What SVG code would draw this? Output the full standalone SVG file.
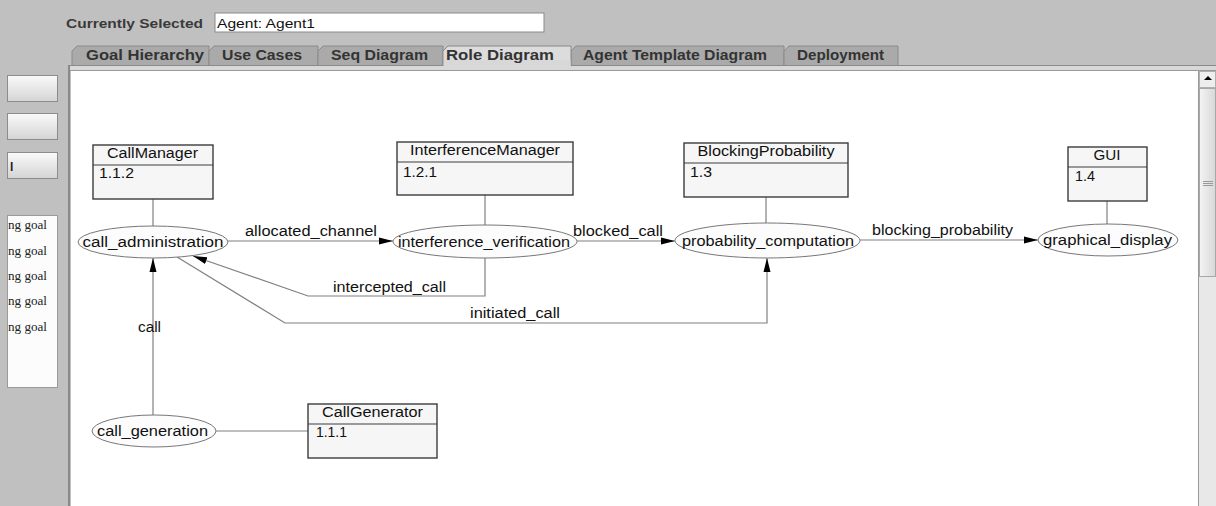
<svg xmlns="http://www.w3.org/2000/svg" width="1216" height="506" viewBox="0 0 1216 506">
<style>
.ui{font-family:"Liberation Sans",Arial,sans-serif}
.tab{fill:#aaaaaa;stroke:#8a8a8a;stroke-width:1}
.tabsel{fill:#dcdcdc;stroke:#8a8a8a;stroke-width:1}
.tabt{font-family:"Liberation Sans",Arial,sans-serif;font-weight:bold;font-size:14px;fill:#333}
.lbl{font-family:"Liberation Sans",Arial,sans-serif;font-size:14px;fill:#111}
.box{fill:#f6f6f6;stroke:#3c3c3c;stroke-width:1.4}
.ell{fill:#fcfcfc;stroke:#777;stroke-width:1}
.con{fill:none;stroke:#808080;stroke-width:1.2}
.goal{font-family:"Liberation Serif","Times New Roman",serif;font-size:12px;fill:#222}
.btn{fill:url(#bg);stroke:#8c8c8c;stroke-width:1}
</style>
<defs>
<linearGradient id="bg" x1="0" y1="0" x2="0" y2="1">
<stop offset="0" stop-color="#fafafa"/><stop offset="1" stop-color="#d4d4d4"/>
</linearGradient>
<linearGradient id="sb" x1="0" y1="0" x2="1" y2="0">
<stop offset="0" stop-color="#f4f4f4"/><stop offset="1" stop-color="#d8d8d8"/>
</linearGradient>
<marker id="arr" viewBox="0 0 14 8" refX="14" refY="4" markerWidth="14" markerHeight="8" markerUnits="userSpaceOnUse" orient="auto">
<path d="M0,0.5 L14,4 L0,7.5 Z" fill="#000"/>
</marker>
</defs>

<!-- window background -->
<rect x="0" y="0" width="1216" height="506" fill="#c0c0c0"/>

<!-- header -->
<text class="ui" x="66" y="28" font-size="13" font-weight="bold" fill="#3a3a3a" textLength="137" lengthAdjust="spacingAndGlyphs">Currently Selected</text>
<rect x="215" y="13" width="329" height="19" fill="#fff" stroke="#8a8a8a" stroke-width="1"/>
<text class="ui" x="217" y="28" font-size="12" fill="#111" textLength="98" lengthAdjust="spacingAndGlyphs">Agent: Agent1</text>

<!-- tabs -->
<g id="tabs">
<path class="tab" d="M72,65 L72,51 L77,46 L209,46 L209,65"/>
<path class="tab" d="M209,65 L209,51 L214,46 L318,46 L318,65"/>
<path class="tab" d="M318,65 L318,51 L323,46 L443,46 L443,65"/>
<path class="tab" d="M571,65 L571,51 L576,46 L784,46 L784,65"/>
<path class="tab" d="M784,65 L784,51 L789,46 L898,46 L898,65"/>
<rect x="68" y="65" width="1148" height="5" fill="#d8d8d8"/>
<line x1="68" y1="65.5" x2="1216" y2="65.5" stroke="#8a8a8a"/>
<path class="tabsel" d="M443,66 L443,51 L448,46 L571,46 L571,66"/>
<rect x="444" y="60" width="126.5" height="8" fill="#d8d8d8"/>
<line x1="68" y1="70.5" x2="1216" y2="70.5" stroke="#9a9a9a"/>
<text class="tabt" x="86" y="60" textLength="118" lengthAdjust="spacingAndGlyphs">Goal Hierarchy</text>
<text class="tabt" x="222" y="60" textLength="80" lengthAdjust="spacingAndGlyphs">Use Cases</text>
<text class="tabt" x="331" y="60" textLength="97" lengthAdjust="spacingAndGlyphs">Seq Diagram</text>
<text class="tabt" x="446" y="60" textLength="108" lengthAdjust="spacingAndGlyphs">Role Diagram</text>
<text class="tabt" x="583" y="60" textLength="184" lengthAdjust="spacingAndGlyphs">Agent Template Diagram</text>
<text class="tabt" x="797" y="60" textLength="87" lengthAdjust="spacingAndGlyphs">Deployment</text>
</g>

<!-- left panel -->
<g id="leftpanel">
<rect class="btn" x="7.5" y="75.5" width="50" height="26"/>
<rect class="btn" x="7.5" y="113.5" width="50" height="26"/>
<rect class="btn" x="7.5" y="152.5" width="50" height="26"/>
<text class="ui" x="10" y="171" font-size="12" font-weight="bold" fill="#222">l</text>
<rect x="7.5" y="215.5" width="50" height="172" fill="#fcfcfc" stroke="#9a9a9a"/>
<text class="goal" x="8" y="229" textLength="39" lengthAdjust="spacingAndGlyphs">ng goal</text>
<text class="goal" x="8" y="255" textLength="39" lengthAdjust="spacingAndGlyphs">ng goal</text>
<text class="goal" x="8" y="280" textLength="39" lengthAdjust="spacingAndGlyphs">ng goal</text>
<text class="goal" x="8" y="305" textLength="39" lengthAdjust="spacingAndGlyphs">ng goal</text>
<text class="goal" x="8" y="331" textLength="39" lengthAdjust="spacingAndGlyphs">ng goal</text>
</g>

<!-- diagram canvas -->
<rect x="71" y="71" width="1127" height="435" fill="#ffffff"/>
<line x1="69" y1="65" x2="69" y2="506" stroke="#8a8a8a" stroke-width="2"/>

<!-- scrollbar -->
<g id="scrollbar">
<rect x="1199" y="71" width="17" height="435" fill="#e8e8e8"/>
<line x1="1198.5" y1="71" x2="1198.5" y2="506" stroke="#9a9a9a"/>
<rect x="1199.5" y="71.5" width="16" height="16" fill="#eeeeee" stroke="#b0b0b0"/>
<path d="M1204,80 L1208,76 L1212,80 Z" fill="#000"/>
<rect x="1199.5" y="88.5" width="16" height="188" fill="url(#sb)" stroke="#a8a8a8"/>
<line x1="1203" y1="181.5" x2="1213" y2="181.5" stroke="#999"/>
<line x1="1203" y1="183.5" x2="1213" y2="183.5" stroke="#999"/>
<line x1="1203" y1="185.5" x2="1213" y2="185.5" stroke="#999"/>
</g>

<!-- connectors -->
<g id="connectors">
<path class="con" d="M153,199 L153,226"/>
<path class="con" d="M485,195 L485,225"/>
<path class="con" d="M766,197 L766,223"/>
<path class="con" d="M1107,201 L1107,224"/>
<path class="con" d="M216,431 L308,431"/>
<path class="con" d="M228,241 L393,241" marker-end="url(#arr)"/>
<path class="con" d="M577,241 L675,241" marker-end="url(#arr)"/>
<path class="con" d="M860,240 L1038,240" marker-end="url(#arr)"/>
<path class="con" d="M153,415 L153,258" marker-end="url(#arr)"/>
<path class="con" d="M485,258 L485,296 L308,296 L193,256" marker-end="url(#arr)"/>
<path class="con" d="M177,257 L285,323 L767,323 L767,258" marker-end="url(#arr)"/>
<text class="lbl" x="245" y="236" textLength="132" lengthAdjust="spacingAndGlyphs">allocated_channel</text>
<text class="lbl" x="573" y="236" textLength="90" lengthAdjust="spacingAndGlyphs">blocked_call</text>
<text class="lbl" x="872" y="235" textLength="141" lengthAdjust="spacingAndGlyphs">blocking_probability</text>
<text class="lbl" x="333" y="292" textLength="113" lengthAdjust="spacingAndGlyphs">intercepted_call</text>
<text class="lbl" x="470" y="318" textLength="90" lengthAdjust="spacingAndGlyphs">initiated_call</text>
<text class="lbl" x="138" y="332" textLength="23" lengthAdjust="spacingAndGlyphs">call</text>
</g>

<!-- role boxes -->
<g id="CallManager">
<rect class="box" x="93" y="145" width="120" height="54"/>
<line x1="93" y1="165" x2="213" y2="165" stroke="#3c3c3c" stroke-width="1.2"/>
<text class="lbl" x="152.5" y="158" text-anchor="middle" textLength="91" lengthAdjust="spacingAndGlyphs">CallManager</text>
<text class="lbl" x="99" y="178" textLength="35" lengthAdjust="spacingAndGlyphs">1.1.2</text>
</g>
<g id="InterferenceManager">
<rect class="box" x="397" y="142" width="176" height="53"/>
<line x1="397" y1="162" x2="573" y2="162" stroke="#3c3c3c" stroke-width="1.2"/>
<text class="lbl" x="485" y="155" text-anchor="middle" textLength="150" lengthAdjust="spacingAndGlyphs">InterferenceManager</text>
<text class="lbl" x="403" y="177" textLength="34" lengthAdjust="spacingAndGlyphs">1.2.1</text>
</g>
<g id="BlockingProbability">
<rect class="box" x="684" y="143" width="164" height="54"/>
<line x1="684" y1="163" x2="848" y2="163" stroke="#3c3c3c" stroke-width="1.2"/>
<text class="lbl" x="766" y="156" text-anchor="middle" textLength="137" lengthAdjust="spacingAndGlyphs">BlockingProbability</text>
<text class="lbl" x="690" y="177" textLength="22" lengthAdjust="spacingAndGlyphs">1.3</text>
</g>
<g id="GUI">
<rect class="box" x="1068" y="147" width="79" height="54"/>
<line x1="1068" y1="167" x2="1147" y2="167" stroke="#3c3c3c" stroke-width="1.2"/>
<text class="lbl" x="1107" y="160" text-anchor="middle" textLength="27" lengthAdjust="spacingAndGlyphs">GUI</text>
<text class="lbl" x="1075" y="181" textLength="20" lengthAdjust="spacingAndGlyphs">1.4</text>
</g>
<g id="CallGenerator">
<rect class="box" x="308" y="404" width="129" height="54"/>
<line x1="308" y1="424" x2="437" y2="424" stroke="#3c3c3c" stroke-width="1.2"/>
<text class="lbl" x="372.5" y="417" text-anchor="middle" textLength="101" lengthAdjust="spacingAndGlyphs">CallGenerator</text>
<text class="lbl" x="316" y="437" textLength="31" lengthAdjust="spacingAndGlyphs">1.1.1</text>
</g>

<!-- roles (ellipses) -->
<g id="call_administration">
<ellipse class="ell" cx="153" cy="242" rx="75" ry="16"/>
<text class="lbl" x="153" y="247" text-anchor="middle" textLength="141" lengthAdjust="spacingAndGlyphs">call_administration</text>
</g>
<g id="interference_verification">
<ellipse class="ell" cx="485" cy="241.5" rx="92" ry="16.5"/>
<text class="lbl" x="484" y="247" text-anchor="middle" textLength="172" lengthAdjust="spacingAndGlyphs">interference_verification</text>
</g>
<g id="probability_computation">
<ellipse class="ell" cx="767.5" cy="240.5" rx="92.5" ry="17.5"/>
<text class="lbl" x="768" y="246" text-anchor="middle" textLength="172" lengthAdjust="spacingAndGlyphs">probability_computation</text>
</g>
<g id="graphical_display">
<ellipse class="ell" cx="1108" cy="240" rx="70" ry="16"/>
<text class="lbl" x="1107.5" y="245" text-anchor="middle" textLength="129" lengthAdjust="spacingAndGlyphs">graphical_display</text>
</g>
<g id="call_generation">
<ellipse class="ell" cx="154" cy="431" rx="62" ry="16"/>
<text class="lbl" x="152.5" y="436" text-anchor="middle" textLength="111" lengthAdjust="spacingAndGlyphs">call_generation</text>
</g>
</svg>
